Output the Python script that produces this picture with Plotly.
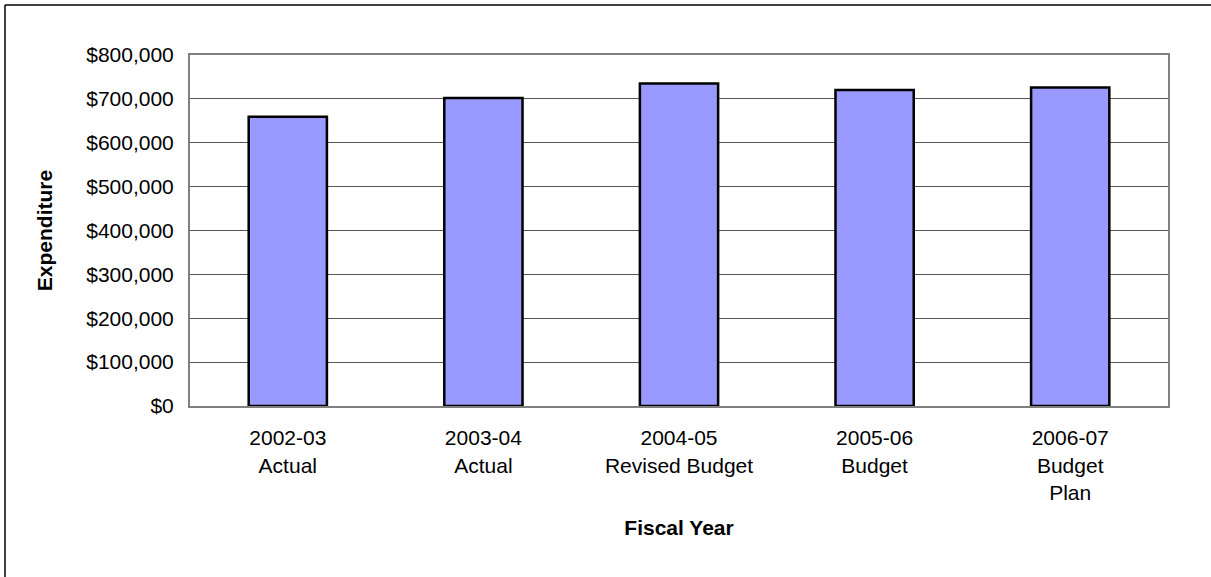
import plotly.graph_objects as go

categories = [
    "2002-03<br>Actual",
    "2003-04<br>Actual",
    "2004-05<br>Revised Budget",
    "2005-06<br>Budget",
    "2006-07<br>Budget<br>Plan",
]
expenditure = [659000, 702000, 735000, 720000, 726000]

W, H = 1211, 577
L, R, T, B = 190, 43, 55, 171
pw, ph = W - L - R, H - T - B

def px_x(p):
    return (p - L) / pw

def px_y(p):
    return (H - B - p) / ph

fig = go.Figure(
    go.Bar(
        x=categories,
        y=expenditure,
        marker=dict(color="#9999FF", line=dict(color="#000000", width=2.5)),
        width=0.4,
    )
)

font_family = "Liberation Sans, Arial, sans-serif"
border = dict(color="#000000", width=1.5)

fig.update_layout(
    width=W,
    height=H,
    margin=dict(l=L, r=R, t=T, b=B),
    paper_bgcolor="white",
    plot_bgcolor="white",
    font=dict(family=font_family, size=21, color="#000000"),
    showlegend=False,
    shapes=[
        dict(type="line", xref="paper", yref="paper",
             x0=px_x(5), x1=px_x(W + 5), y0=px_y(5), y1=px_y(5),
             line=border, layer="below"),
        dict(type="line", xref="paper", yref="paper",
             x0=px_x(5), x1=px_x(5), y0=px_y(5), y1=px_y(H + 5),
             line=border, layer="below"),
    ],
)

fig.update_xaxes(
    showline=True,
    linecolor="#808080",
    linewidth=2,
    mirror=True,
    showgrid=False,
    ticks="",
    ticklabelstandoff=12,
    tickfont=dict(size=21),
    title=dict(text="<b>Fiscal Year</b>", font=dict(size=21), standoff=18),
)

fig.update_yaxes(
    range=[0, 800000],
    dtick=100000,
    tickformat="$,.0f",
    showline=True,
    linecolor="#808080",
    linewidth=2,
    mirror=True,
    showgrid=True,
    gridcolor="#555555",
    gridwidth=1,
    zeroline=False,
    ticks="",
    ticklabelstandoff=10,
    tickfont=dict(size=21),
    title=dict(text="<b>Expenditure</b>", font=dict(size=21), standoff=28),
)

fig.write_html(
    "out.html",
    config={"displayModeBar": False},
    post_script=(
        "document.body.style.margin='0';document.body.style.padding='0';"
        "document.body.style.overflow='hidden';"
        "document.documentElement.style.overflow='hidden';"
    ),
)
